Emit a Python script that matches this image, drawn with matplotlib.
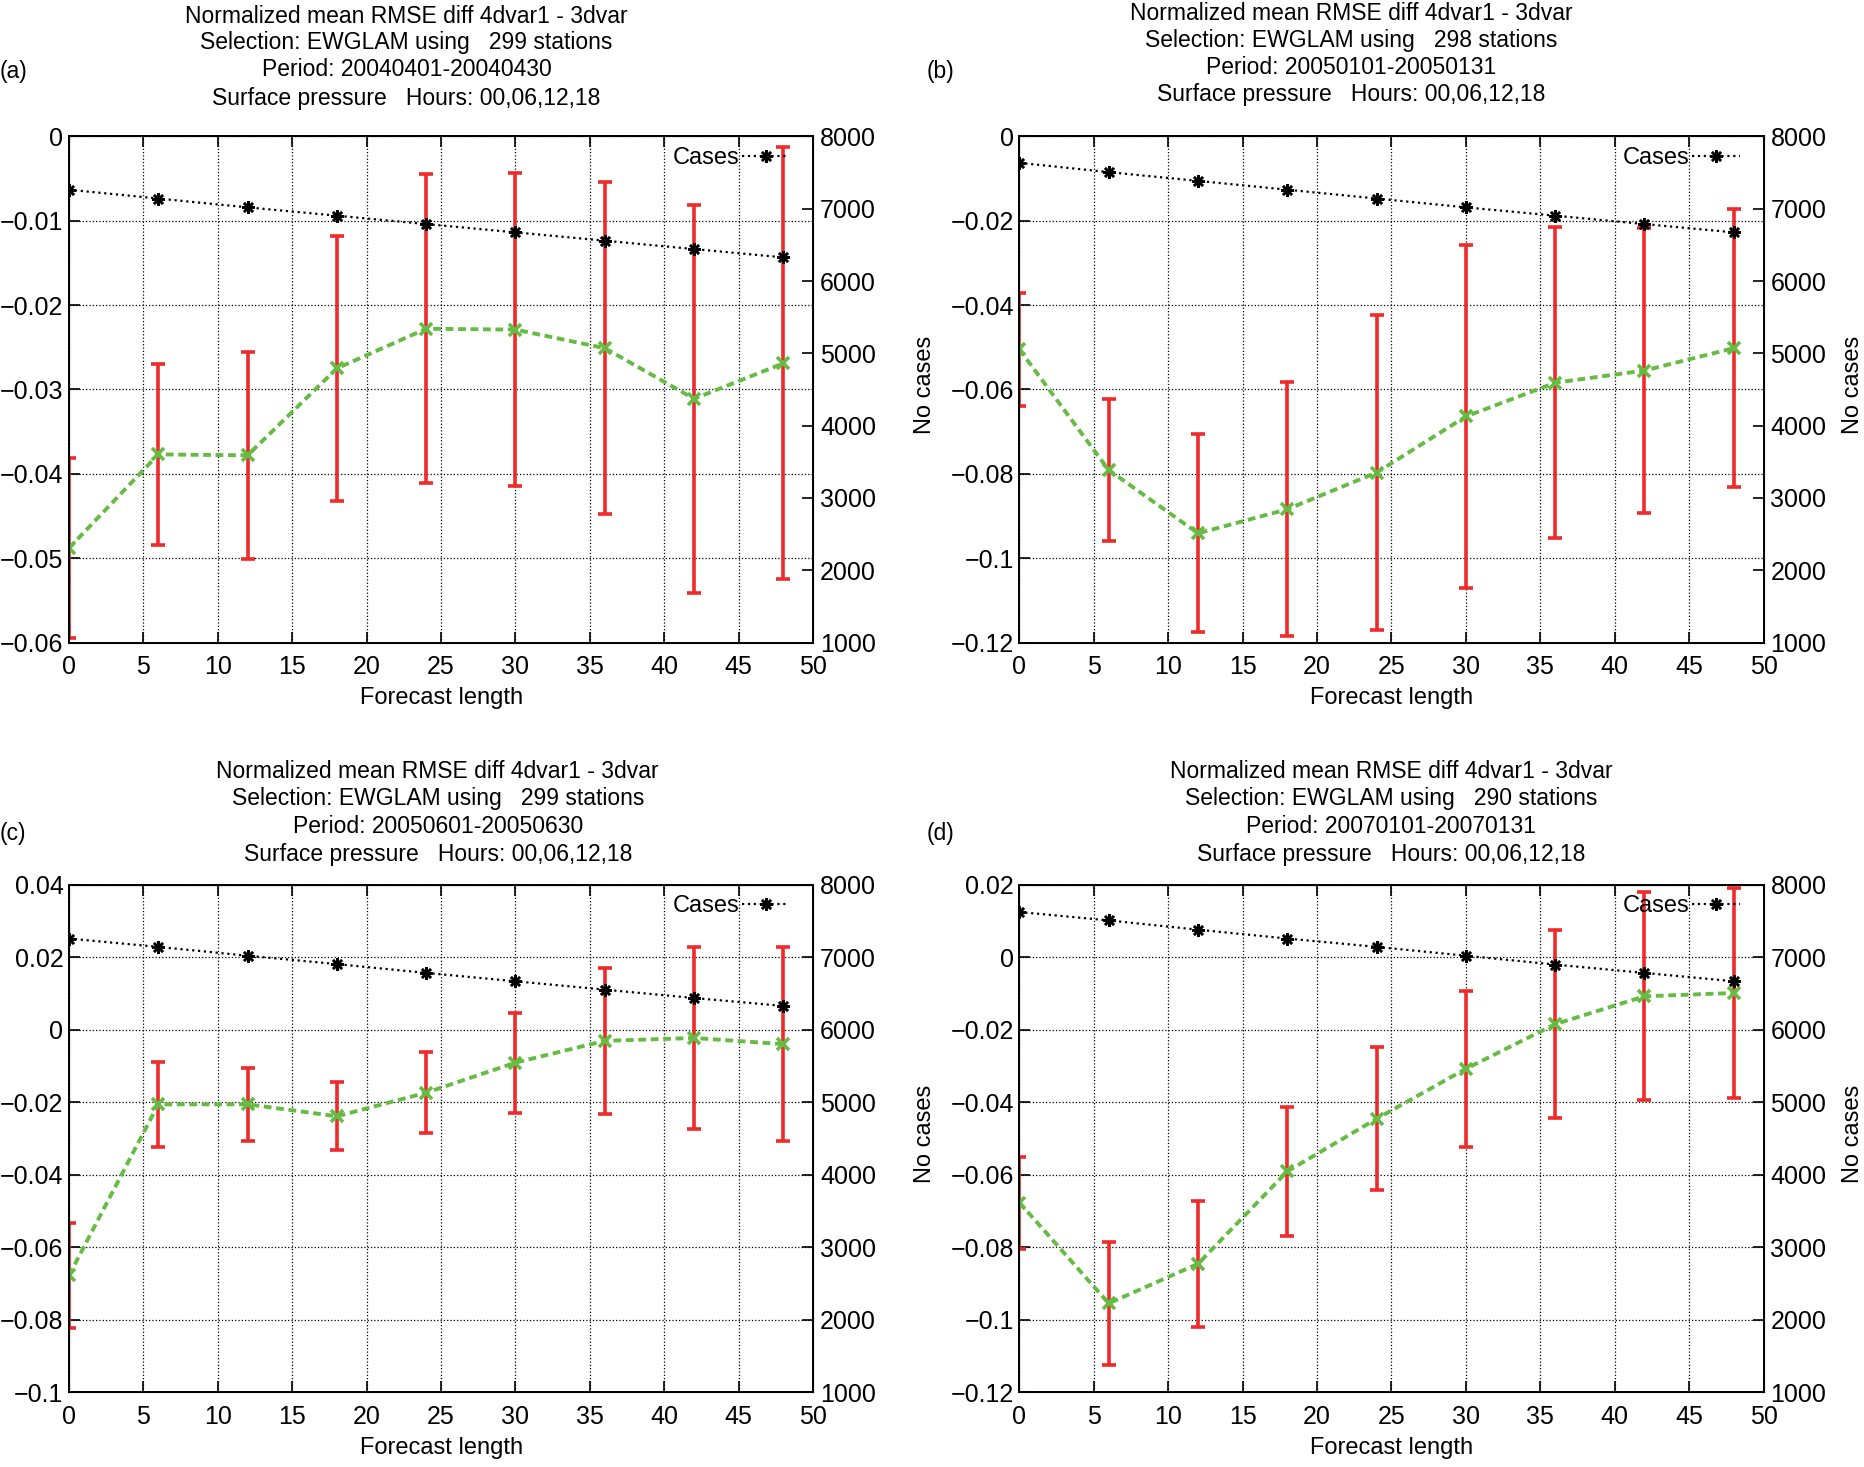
import numpy as np
import matplotlib
matplotlib.use('Agg')
import matplotlib.pyplot as plt
from matplotlib.ticker import FuncFormatter, MultipleLocator

plt.rcParams['font.family'] = ['Liberation Sans', 'DejaVu Sans']
plt.rcParams['font.size'] = 14

# forecast length (hours)
lead = [0, 6, 12, 18, 24, 30, 36, 42, 48]

# (a) April 2004
mean_a = [-0.0488, -0.0377, -0.0378, -0.0275, -0.0228, -0.0229, -0.0251, -0.0311, -0.0269]
err_a = [0.0107, 0.0107, 0.0123, 0.0157, 0.0183, 0.0186, 0.0197, 0.0230, 0.0256]
cases_a = [7263, 7141, 7019, 6904, 6788, 6673, 6558, 6442, 6327]

# (b) January 2005
mean_b = [-0.0505, -0.0791, -0.0941, -0.0884, -0.0797, -0.0664, -0.0584, -0.0555, -0.0502]
err_b = [0.0134, 0.0169, 0.0235, 0.0301, 0.0373, 0.0407, 0.0369, 0.0337, 0.0329]
cases_b = [7635, 7506, 7385, 7263, 7141, 7019, 6904, 6788, 6673]

# (c) June 2005
mean_c = [-0.0678, -0.0206, -0.0206, -0.0239, -0.0174, -0.0091, -0.0031, -0.0023, -0.0040]
err_c = [0.0145, 0.0117, 0.0101, 0.0094, 0.0111, 0.0138, 0.0201, 0.0252, 0.0267]
cases_c = [7256, 7141, 7019, 6904, 6782, 6667, 6551, 6436, 6327]

# (d) January 2007
mean_d = [-0.0677, -0.0955, -0.0846, -0.0591, -0.0446, -0.0308, -0.0185, -0.0108, -0.0099]
err_d = [0.0127, 0.0169, 0.0174, 0.0178, 0.0197, 0.0215, 0.0260, 0.0287, 0.0289]
cases_d = [7622, 7506, 7378, 7256, 7141, 7019, 6897, 6782, 6667]

stations = ['299', '298', '299', '290']
periods = ['20040401-20040430', '20050101-20050131', '20050601-20050630', '20070101-20070131']
ylims = [(-0.06, 0.0), (-0.12, 0.0), (-0.1, 0.04), (-0.12, 0.02)]
ysteps = [0.01, 0.02, 0.02, 0.02]

panels = [
    ('(a)', mean_a, err_a, cases_a),
    ('(b)', mean_b, err_b, cases_b),
    ('(c)', mean_c, err_c, cases_c),
    ('(d)', mean_d, err_d, cases_d),
]

# layout in figure fractions
axpos = [[0.037, 0.562, 0.399, 0.345],
         [0.5466, 0.562, 0.399, 0.345],
         [0.037, 0.051, 0.399, 0.346],
         [0.5466, 0.051, 0.399, 0.346]]
title_x = [0.218, 0.7245, 0.2347, 0.746]
title_y = [[0.9887, 0.971, 0.9524, 0.9331],
           [0.9911, 0.9724, 0.954, 0.9354],
           [0.4742, 0.4557, 0.4363, 0.4178],
           [0.4742, 0.4557, 0.4363, 0.4178]]
label_xy = [(0.0, 0.9516), (0.4968, 0.9516), (0.0, 0.4315), (0.4968, 0.4315)]
nocases_x = [0.496, 0.9935, 0.496, 0.9935]

green = '#66bb44'
red = '#ee2a2a'


def gfmt(v, p):
    if abs(v) < 1e-9:
        return '0'
    return ('%g' % round(v, 6)).replace('-', '\u2212')


fig = plt.figure(figsize=(18.65, 14.67), dpi=100)

for i, (tag, mean, err, cases) in enumerate(panels):
    ax = fig.add_axes(axpos[i])
    ax.errorbar(lead, mean, yerr=err, fmt='none', ecolor=red, elinewidth=2.6,
                capsize=5, capthick=2.6, zorder=3)
    ax.plot(lead, mean, ls=(0, (2.0, 1.2)), color=green, lw=2.8, marker='x',
            ms=9, mew=2.6, zorder=4)
    ax.set_xlim(0, 50)
    ax.set_ylim(*ylims[i])
    ax.xaxis.set_major_locator(MultipleLocator(5))
    ax.yaxis.set_major_locator(MultipleLocator(ysteps[i]))
    ax.yaxis.set_major_formatter(FuncFormatter(gfmt))
    ax.grid(True, ls=':', color='black', lw=0.9)
    ax.tick_params(direction='in', length=8, width=1.2, top=True, right=False,
                   labelsize=18)
    ax.tick_params(axis='x', pad=9)
    ax.tick_params(axis='y', pad=4)
    ax.set_xlabel('Forecast length', fontsize=17, labelpad=6)
    for s in ax.spines.values():
        s.set_linewidth(1.4)

    ax2 = ax.twinx()
    ax2.plot(lead, cases, ls=':', color='black', lw=1.6, marker=(8, 2, 0),
             ms=9, mew=1.8, label='Cases')
    ax2.set_ylim(1000, 8000)
    ax2.yaxis.set_major_locator(MultipleLocator(1000))
    ax2.tick_params(direction='in', length=8, width=1.2, labelsize=18, pad=5)
    ax2.legend(loc='upper right', frameon=False, markerfirst=False, fontsize=17,
               handlelength=2.0, handletextpad=0.1, borderaxespad=0.2,
               borderpad=0.25, bbox_to_anchor=(0.982, 1.0))

    pos = axpos[i]
    fig.text(nocases_x[i], pos[1] + pos[3] / 2 + 0.003, 'No cases', rotation=90,
             ha='center', va='center', fontsize=17)

    lines = ['Normalized mean RMSE diff 4dvar1 - 3dvar',
             'Selection: EWGLAM using   %s stations' % stations[i],
             'Period: %s' % periods[i],
             'Surface pressure   Hours: 00,06,12,18']
    for line, y in zip(lines, title_y[i]):
        fig.text(title_x[i], y, line, ha='center', va='center', fontsize=16.5)
    fig.text(label_xy[i][0], label_xy[i][1], tag, ha='left', va='center', fontsize=16.5)

fig.savefig('out.png', dpi=100)
